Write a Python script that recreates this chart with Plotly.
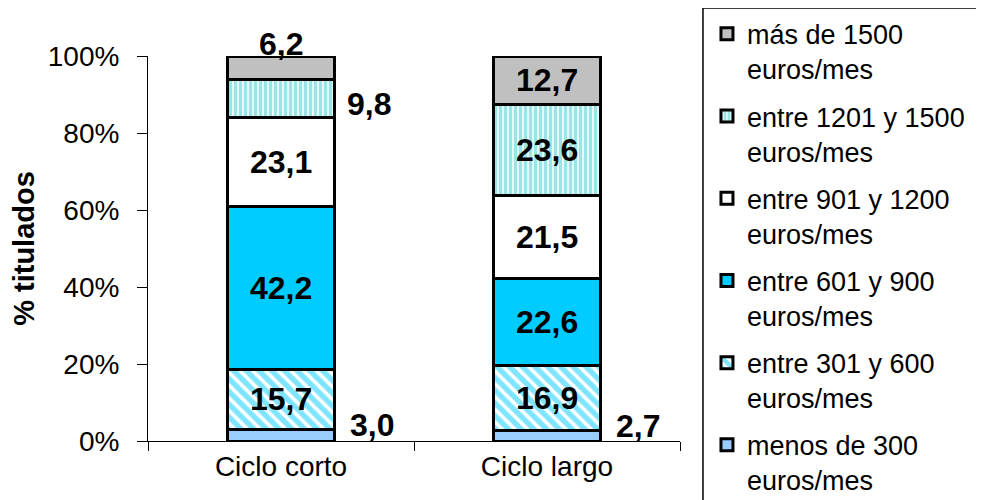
import numpy as np
import plotly.graph_objects as go

#%% Data
categorias = ['Ciclo corto', 'Ciclo largo']
tramos = ['menos de 300<br>euros/mes', 'entre 301 y 600<br>euros/mes',
          'entre 601 y 900<br>euros/mes', 'entre 901 y 1200<br>euros/mes',
          'entre 1201 y 1500<br>euros/mes', 'más de 1500<br>euros/mes']
ciclo_corto = [3.0, 15.7, 42.2, 23.1, 9.8, 6.2]
ciclo_largo = [2.7, 16.9, 22.6, 21.5, 23.6, 12.7]
y_ticks = [0, 20, 40, 60, 80, 100]

colores = ['#99CCFF', '#00CCFF', '#00CCFF', '#FFFFFF', '#33CCCC', '#C0C0C0']
patrones = ['', '\\', '', '', '|', '']

FONT = 'Liberation Sans'

#%% Figure
fig = go.Figure()
valores = np.array([ciclo_corto, ciclo_largo])  # shape (2, 6)
n = len(tramos)

for i, nombre in enumerate(tramos):
    if patrones[i]:
        marker = dict(color='white', line=dict(color='black', width=3),
                      pattern=dict(shape=patrones[i], fgcolor=colores[i], bgcolor='white',
                                   size=5 if patrones[i] == '|' else 9,
                                   solidity=0.7 if patrones[i] == '|' else 0.6))
    else:
        marker = dict(color=colores[i], line=dict(color='black', width=3))
    fig.add_trace(go.Bar(x=categorias, y=valores[:, i], name=nombre, marker=marker,
                         width=0.4, legendgroup=str(i), legendrank=n - i,
                         hoverinfo='skip'))

# Data labels
acum = np.cumsum(valores, axis=1)
medio = acum - valores / 2
for c in range(len(categorias)):
    for i in range(n):
        v = valores[c, i]
        txt = f'{v:.1f}'.replace('.', ',')
        font = dict(family=FONT, size=32, color='black')
        if v >= 10:
            fig.add_annotation(x=c, y=medio[c, i], text=f'<b>{txt}</b>', showarrow=False,
                               font=font, xanchor='center', yanchor='middle')
        elif i == n - 1:
            fig.add_annotation(x=c, y=acum[c, i], text=f'<b>{txt}</b>', showarrow=False,
                               font=font, xanchor='center', yanchor='middle', yshift=12)
        else:
            fig.add_annotation(x=c + 0.2, y=medio[c, i], text=f'<b>{txt}</b>', showarrow=False,
                               font=font, xanchor='left', yanchor='middle',
                               xshift=14 if i == 0 else 11,
                               yshift=10 if i == 0 else -5)

# Legend frame (runs past the page edge like the original)
fig.add_shape(type='rect', xref='paper', yref='paper',
              x0=1.0432, x1=1.6, y0=-0.2, y1=1.1247,
              line=dict(color='black', width=1.5), fillcolor='white', layer='below')

fig.update_layout(
    width=976, height=492,
    barmode='stack',
    plot_bgcolor='white', paper_bgcolor='white',
    margin=dict(l=140, r=304, t=48, b=59, autoexpand=False),
    font=dict(family=FONT, size=28, color='black'),
    showlegend=True,
    legend=dict(
        x=1.0507, y=1.12, xanchor='left', yanchor='top',
        traceorder='grouped', tracegroupgap=9, valign='top',
        font=dict(family=FONT, size=27, color='black'),
        bgcolor='rgba(0,0,0,0)', borderwidth=0, maxheight=1000,
    ),
)

fig.update_xaxes(
    range=[-0.5, 1.5], showline=True, linecolor='black', linewidth=1,
    ticks='outside', tickson='boundaries', ticklen=9, tickcolor='black',
    showgrid=False, tickfont=dict(size=28),
)
fig.update_yaxes(
    range=[0, 100], tickvals=y_ticks, ticktext=[f'{t}%' for t in y_ticks],
    showline=True, linecolor='black', linewidth=1,
    ticks='outside', ticklen=10, tickcolor='black', showgrid=False,
    ticklabelstandoff=12, tickfont=dict(size=28),
    title=dict(text='<b>% titulados</b>', font=dict(size=29), standoff=36),
)

fig.write_html('out.html')
